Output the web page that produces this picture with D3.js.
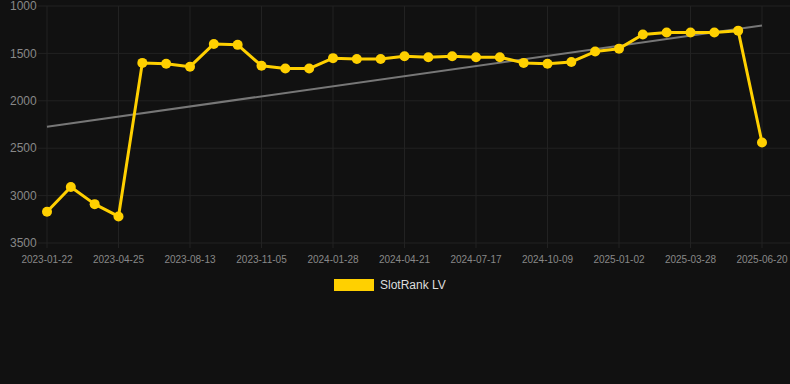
<!DOCTYPE html>
<html>
<head>
<meta charset="utf-8">
<script src="https://cdn.jsdelivr.net/npm/d3@7"></script>
<style>
	html, body { margin: 0; padding: 0; background: #111111; }
	svg { display: block; font-family: "Liberation Sans", Arial, sans-serif; }
</style>
</head>
<body>
<div id="chart"></div>
<script>
// dates on the x axis (only every 3rd one is labelled)
var dates = [
	'2023-01-22', '2023-02-22', '2023-03-25', '2023-04-25', '2023-05-31', '2023-07-07',
	'2023-08-13', '2023-09-10', '2023-10-08', '2023-11-05', '2023-12-03', '2023-12-31',
	'2024-01-28', '2024-02-25', '2024-03-24', '2024-04-21', '2024-05-19', '2024-06-16',
	'2024-07-17', '2024-08-14', '2024-09-11', '2024-10-09', '2024-11-06', '2024-12-04',
	'2025-01-02', '2025-01-30', '2025-02-27', '2025-03-28', '2025-04-25', '2025-05-23',
	'2025-06-20'
];
// rank values (lower is better, axis reversed)
var ranks = [
	3170, 2910, 3090, 3220, 1600, 1610, 1640, 1400, 1410, 1630, 1660, 1660,
	1550, 1560, 1560, 1530, 1540, 1530, 1540, 1540, 1600, 1610, 1590, 1480,
	1450, 1300, 1280, 1280, 1280, 1260, 2440
];
var yTicks = [1000, 1500, 2000, 2500, 3000, 3500];
var seriesName = 'SlotRank LV';

var W = 790, H = 384;
var layout = { left: 47, right: 762, top: 6, bottom: 243, gridLeft: 38 };
var gold = '#ffd000';

var svg = d3.select('#chart').append('svg').attr('width', W).attr('height', H);
svg.append('rect').attr('width', W).attr('height', H).attr('fill', '#111111');

var x = d3.scalePoint().domain(dates).range([layout.left, layout.right]);
var y = d3.scaleLinear().domain([1000, 3500]).range([layout.top, layout.bottom]);

// grid
var grid = svg.append('g').attr('class', 'grid');
grid.selectAll('line.h').data(yTicks).enter().append('line')
	.attr('x1', layout.gridLeft).attr('x2', W)
	.attr('y1', d => y(d)).attr('y2', d => y(d))
	.attr('stroke', '#222222').attr('stroke-width', 1);
var xTickDates = dates.filter((d, i) => i % 3 === 0);
grid.selectAll('line.v').data(xTickDates).enter().append('line')
	.attr('x1', d => x(d)).attr('x2', d => x(d))
	.attr('y1', layout.top).attr('y2', layout.bottom + 5)
	.attr('stroke', '#222222').attr('stroke-width', 1);

// y labels
svg.append('g').selectAll('text').data(yTicks).enter().append('text')
	.attr('x', 10).attr('y', d => y(d)).attr('dy', '0.35em')
	.attr('fill', '#888888').attr('font-size', 12)
	.text(d => d);

// x labels
svg.append('g').selectAll('text').data(xTickDates).enter().append('text')
	.attr('x', d => x(d)).attr('y', 259).attr('dy', '0.35em')
	.attr('text-anchor', 'middle')
	.attr('fill', '#888888').attr('font-size', 10)
	.text(d => d);

// trend line (least squares on index)
var n = ranks.length;
var mx = d3.mean(ranks, (d, i) => i), my = d3.mean(ranks);
var sxy = d3.sum(ranks, (d, i) => (i - mx) * (d - my));
var sxx = d3.sum(ranks, (d, i) => (i - mx) * (i - mx));
var slope = sxy / sxx, icpt = my - slope * mx;
svg.append('line')
	.attr('x1', x(dates[0])).attr('y1', y(icpt))
	.attr('x2', x(dates[n - 1])).attr('y2', y(icpt + slope * (n - 1)))
	.attr('stroke', '#777777').attr('stroke-width', 2);

// series
var line = d3.line().x((d, i) => x(dates[i])).y(d => y(d));
svg.append('path').datum(ranks)
	.attr('d', line).attr('fill', 'none')
	.attr('stroke', gold).attr('stroke-width', 3).attr('stroke-linejoin', 'round');
svg.append('g').selectAll('circle').data(ranks).enter().append('circle')
	.attr('cx', (d, i) => x(dates[i])).attr('cy', d => y(d))
	.attr('r', 5).attr('fill', gold);

// legend
var lg = svg.append('g').attr('transform', 'translate(334,279)');
lg.append('rect').attr('width', 40).attr('height', 12).attr('fill', gold);
lg.append('text').attr('x', 46).attr('y', 6).attr('dy', '0.35em')
	.attr('fill', '#dddddd').attr('font-size', 12).text(seriesName);
</script>
</body>
</html>
